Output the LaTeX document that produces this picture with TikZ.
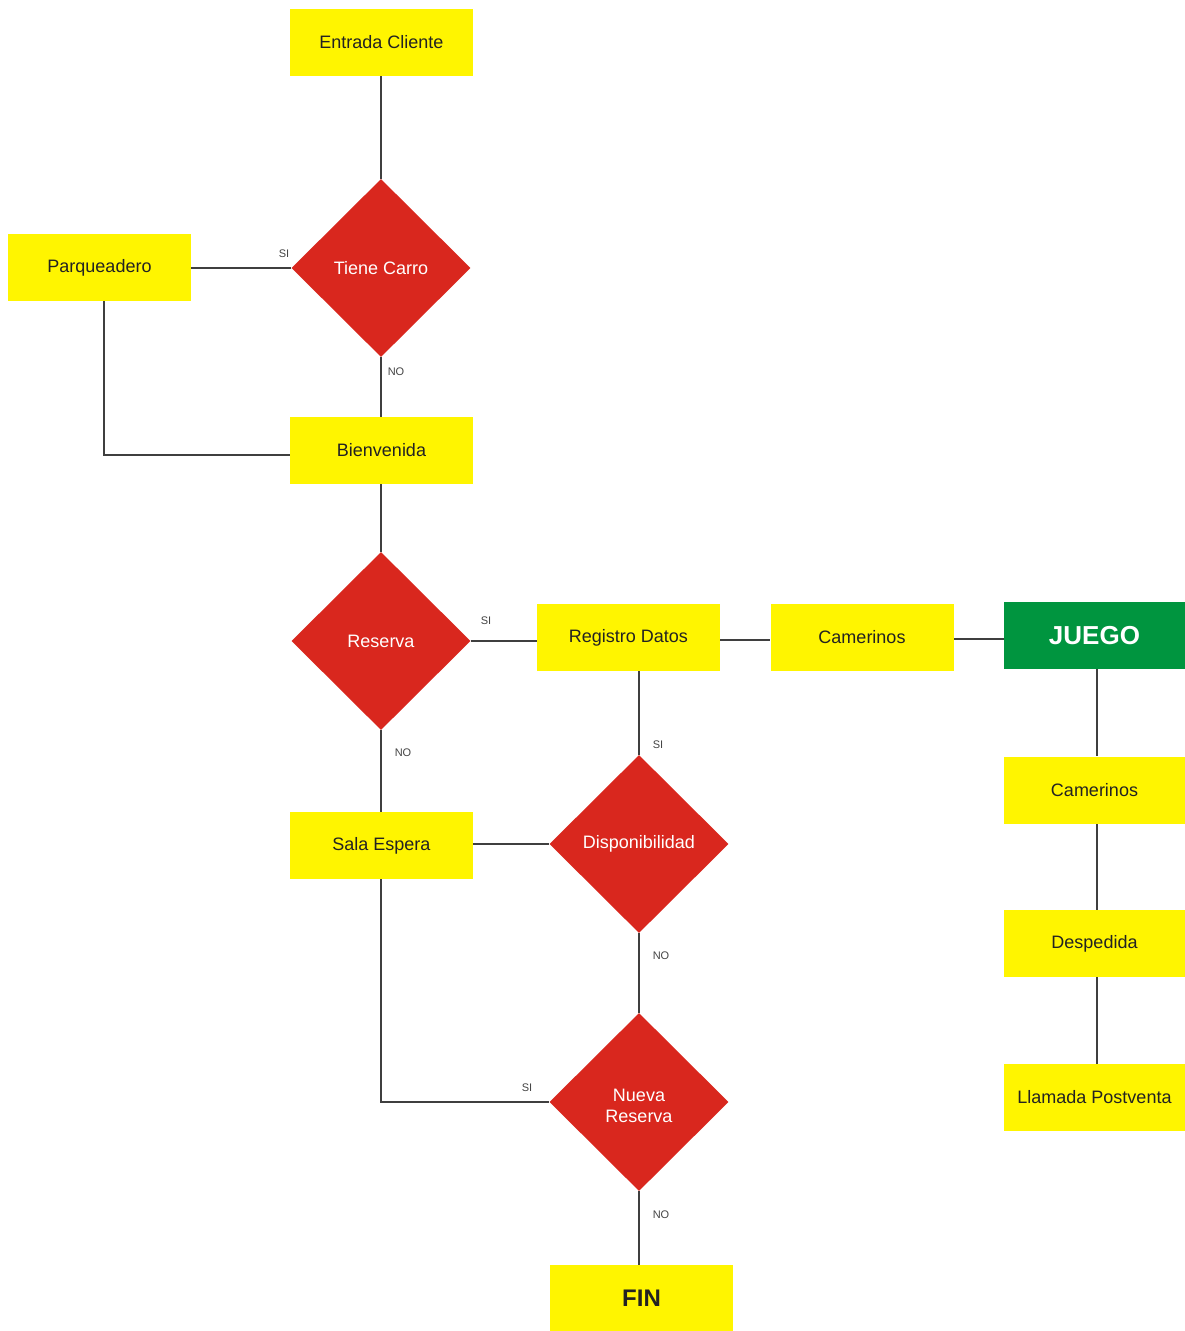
\documentclass[tikz,border=0pt]{standalone}
\usepackage{fontspec}
\setmainfont{Liberation Sans}
\usetikzlibrary{shapes.geometric,backgrounds,calc}
\definecolor{boxyellow}{HTML}{FFF500}
\definecolor{decred}{HTML}{D9271E}
\definecolor{gamegreen}{HTML}{00953F}
\definecolor{linegray}{HTML}{3F3F3F}
\definecolor{txtgray}{HTML}{222222}
\definecolor{lblgray}{HTML}{444444}
\tikzset{
  yelbox/.style={rectangle, fill=boxyellow, minimum width=183pt, minimum height=67pt, inner sep=0pt,
    text=txtgray, font=\fontsize{18}{21}\selectfont},
  decbox/.style={diamond, fill=decred, minimum width=179pt, minimum height=178pt, inner sep=0pt,
    text=white, align=center, font=\fontsize{18}{21}\selectfont},
  greenbox/.style={rectangle, fill=gamegreen, minimum width=181pt, minimum height=67pt, inner sep=0pt,
    text=white, font=\fontsize{26}{30}\selectfont\bfseries},
  conn/.style={draw=linegray, line width=2pt},
  lbl/.style={text=lblgray, font=\fontsize{11}{13}\selectfont, inner sep=0pt}
}
\begin{document}
\begin{tikzpicture}[x=1pt,y=-1pt]
\useasboundingbox (0,0) rectangle (1185,1331);
\node[yelbox] (entrada) at (381.5,42) {Entrada Cliente};
\node[decbox] (tiene) at (381,268) {Tiene Carro};
\node[yelbox] (parq) at (99.5,267.5) {Parqueadero};
\node[yelbox] (bien) at (381.5,450.5) {Bienvenida};
\node[decbox] (reserva) at (381,641) {Reserva};
\node[yelbox] (registro) at (628.5,637.5) {Registro Datos};
\node[yelbox] (cam1) at (862,637) {Camerinos};
\node[greenbox] (juego) at (1094.5,635.5) {JUEGO};
\node[yelbox, minimum width=181pt] (cam2) at (1094.5,790) {Camerinos};
\node[yelbox, minimum width=181pt] (desp) at (1094.5,943.5) {Despedida};
\node[yelbox, minimum width=181pt] (llam) at (1094.5,1097.5) {Llamada Postventa};
\node[yelbox] (sala) at (381.5,845.5) {Sala Espera};
\node[decbox] (disp) at (639,844) {Disponibilidad};
\node[decbox] (nueva) at (639,1102) {\raisebox{-10.5pt}[0pt][0pt]{\begin{tabular}{@{}c@{}}Nueva\\[0pt]Reserva\end{tabular}}};
\node[yelbox, minimum height=66pt, font=\fontsize{24}{28}\selectfont\bfseries] (fin) at (641.5,1298) {FIN};

\coordinate (pq) at (104,301);
\coordinate (bw) at (290,455);
\coordinate (rge) at (720,640);
\coordinate (c1w) at (770,640);
\coordinate (c1e) at (954,639);
\coordinate (jw) at (1004,639);
\coordinate (rgs) at (639,671);
\coordinate (se) at (473,844);
\coordinate (ss) at (381,879);
\coordinate (fn) at (639,1265);

\begin{scope}[on background layer]
\fill[white] (0,0) rectangle (1185,1331);
\draw[conn] (entrada.south -| tiene.north) -- (tiene.north);
\draw[conn] (tiene.west) -- (tiene.west -| parq.east);
\draw[conn] (tiene.south) -- (tiene.south |- bien.north);
\draw[conn] (pq) |- (bw);
\draw[conn] (bien.south -| reserva.north) -- (reserva.north);
\draw[conn] (reserva.east) -- (reserva.east -| registro.west);
\draw[conn] (rge) -- (c1w);
\draw[conn] (c1e) -- (jw);
\draw[conn] (reserva.south) -- (reserva.south |- sala.north);
\draw[conn] (rgs) -- (disp.north);
\draw[conn] (se) -- (disp.west);
\draw[conn] (disp.south) -- (nueva.north);
\draw[conn] (ss) |- (nueva.west);
\draw[conn] (nueva.south) -- (fn);
\draw[conn] ($(juego.south)+(2.5,0)$) -- ($(cam2.north)+(2.5,0)$);
\draw[conn] ($(cam2.south)+(2.5,0)$) -- ($(desp.north)+(2.5,0)$);
\draw[conn] ($(desp.south)+(2.5,0)$) -- ($(llam.north)+(2.5,0)$);
\end{scope}

\node[lbl] (l1) at (284,254) {SI};
\node[lbl] (l2) at (396,372) {NO};
\node[lbl] (l3) at (486,621) {SI};
\node[lbl] (l4) at (403,753) {NO};
\node[lbl] (l5) at (658,745) {SI};
\node[lbl] (l6) at (661,956) {NO};
\node[lbl] (l7) at (527,1088) {SI};
\node[lbl] (l8) at (661,1215) {NO};
\end{tikzpicture}
\end{document}
